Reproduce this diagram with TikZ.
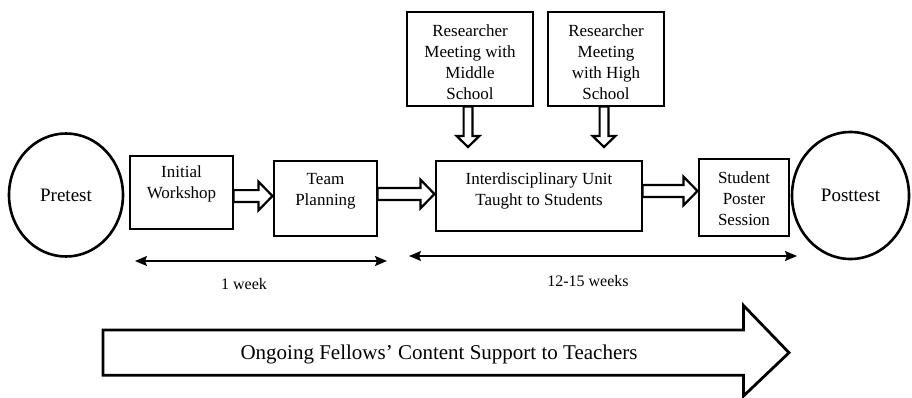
\documentclass[tikz,border=0pt]{standalone}
\usepackage{fontspec}
\setmainfont{Liberation Serif}
\usetikzlibrary{calc,shapes.geometric,arrows.meta}
\newcommand\hollowH[3]{%
  \draw[hollow] let \p1=(#1 |- 0,#3), \p2=(#2 |- 0,#3) in
    (\x1,{\y1+5.9pt}) -- ({\x2-15pt},{\y1+5.9pt}) -- ({\x2-15pt},{\y1+14.4pt})
    -- ({\x2-1pt},\y1) -- ({\x2-15pt},{\y1-14.4pt}) -- ({\x2-15pt},{\y1-5.9pt})
    -- (\x1,{\y1-5.9pt}) -- cycle;}
\newcommand\hollowV[2]{%
  \draw[hollow] let \p1=(#1), \p2=(#2) in
    ({\x1-4.4pt},\y1) -- ({\x1-4.4pt},{\y2+11pt}) -- ({\x1-11.4pt},{\y2+11pt})
    -- (\x1,\y2) -- ({\x1+11.4pt},{\y2+11pt}) -- ({\x1+4.4pt},{\y2+11pt})
    -- ({\x1+4.4pt},\y1) -- cycle;}
\begin{document}
\begin{tikzpicture}[x=1pt,y=-1pt,
  box/.style={draw, line width=1.1pt, inner sep=0pt},
  boxtext/.style={align=center, inner sep=0pt, font=\fontsize{17}{21}\selectfont},
  oval/.style={draw, ellipse, line width=2.6pt, inner sep=0pt,
    font=\fontsize{19}{23}\selectfont},
  hollow/.style={draw, line width=2.2pt, fill=white, line join=miter},
  span/.style={line width=1.4pt, {Stealth[length=12pt,width=10pt,inset=2pt]}-{Stealth[length=12pt,width=10pt,inset=2pt]}},
  weeklabel/.style={font=\fontsize{16}{19}\selectfont, inner sep=0pt},
  bigarrow/.style={draw, line width=2.8pt, line join=miter}
]
\useasboundingbox (0,0) rectangle (912,398);

% nodes
\node[oval, minimum width=114pt, minimum height=123pt] (pre) at (66,195) {Pretest};
\node[box, minimum width=103pt, minimum height=73pt] (ws) at (181.5,192.5) {};
\node[boxtext] (wst) at (181.5,183.5) {Initial\\Workshop};
\node[box, minimum width=103pt, minimum height=75pt] (tp) at (325.5,198.5) {};
\node[boxtext] (tpt) at (325.5,191.5) {Team\\Planning};
\node[box, minimum width=206pt, minimum height=70pt] (id) at (539,196) {};
\node[boxtext] (idt) at (539,191) {Interdisciplinary Unit\\Taught to Students};
\node[box, minimum width=90pt, minimum height=77pt] (sp) at (744,197.5) {};
\node[boxtext] (spt) at (744,198.5) {Student\\Poster\\Session};
\node[oval, minimum width=117pt, minimum height=127pt] (post) at (850.5,195.5) {Posttest};
\node[box, minimum width=126pt, minimum height=94pt] (r1) at (470,59) {};
\node[boxtext] (r1t) at (470,62) {Researcher\\Meeting with\\Middle\\School};
\node[box, minimum width=116pt, minimum height=94pt] (r2) at (606,59) {};
\node[boxtext] (r2t) at (606,62) {Researcher\\Meeting\\with High\\School};

% hollow connectors
\hollowH{ws.east}{tp.west}{196}
\hollowH{tp.east}{id.west}{194}
\hollowH{id.east}{sp.west}{191}
\coordinate (d1) at (468,147);
\coordinate (d2) at (604,147);
\hollowV{r1.south -| d1}{d1}
\hollowV{r2.south -| d2}{d2}

% duration spans
\coordinate (s1a) at (135,261);
\coordinate (s1b) at (387,261);
\coordinate (s2a) at (409,256);
\coordinate (s2b) at (797,256);
\draw[span] (s1a) -- (s1b);
\draw[span] (s2a) -- (s2b);
\node[weeklabel] (w1) at (244,284) {1 week};
\node[weeklabel] (w2) at (588,281) {12-15 weeks};

% big arrow
\draw[bigarrow] (103,330) -- (743.5,330) -- (743.5,305.5) -- (789,352.7)
  -- (743.5,396) -- (743.5,375.3) -- (103,375.3) -- cycle;
\node[font=\fontsize{21}{25}\selectfont, inner sep=0pt] (sup) at (439,354)
  {Ongoing Fellows’ Content Support to Teachers};
\end{tikzpicture}
\end{document}
